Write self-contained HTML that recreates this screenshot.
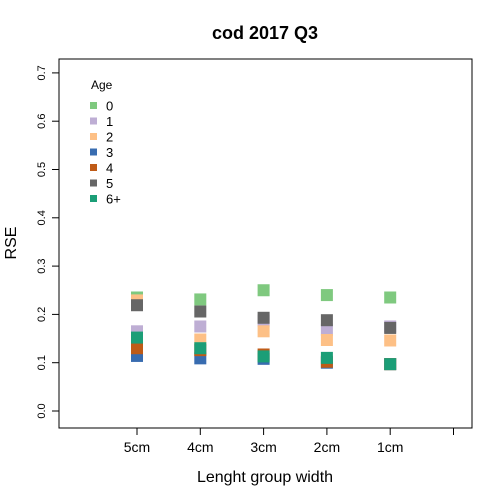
<!DOCTYPE html>
<html><head><meta charset="utf-8"><style>body{margin:0;background:#fff}svg{display:block;font-family:"Liberation Sans",Arial,sans-serif}</style></head>
<body>
<svg id="chart" width="500" height="500">
<text x="265" y="39" text-anchor="middle" font-size="18" font-weight="bold">cod 2017 Q3</text>
<rect x="59" y="59" width="413" height="369" fill="none" stroke="#000"/>
<text x="265" y="482" text-anchor="middle" font-size="16">Lenght group width</text>
<text transform="translate(16,243) rotate(-90)" text-anchor="middle" font-size="16">RSE</text>
<g id="axes"></g><g id="marks"></g><g id="legend"></g>
</svg>
<script>
const categories=["5cm","4cm","3cm","2cm","1cm"];
const ages=["0","1","2","3","4","5","6+"];
const colors=["#7fc97f","#beaed4","#fdc086","#386cb0","#bf5b17","#666666","#1b9e77"];
const age0=[0.235,0.231,0.250,0.240,0.235];
const age1=[0.165,0.175,0.187,0.168,0.175];
const age2=[0.229,0.148,0.165,0.147,0.146];
const age3=[0.114,0.109,0.108,0.100,0.097];
const age4=[0.130,0.126,0.117,0.102,0.097];
const age5=[0.219,0.206,0.193,0.188,0.172];
const age6=[0.152,0.130,0.113,0.110,0.097];
const series=[age0,age1,age2,age3,age4,age5,age6];
const yTicks=[0,0.1,0.2,0.3,0.4,0.5,0.6,0.7];
const NS="http://www.w3.org/2000/svg";
const xS=i=>137+(i)*63.3;
const yS=v=>411-v*483;
function mk(t,a,p){const e=document.createElementNS(NS,t);for(const k in a)e.setAttribute(k,a[k]);p.appendChild(e);return e;}
const ax=document.getElementById('axes');
yTicks.forEach(v=>{
 const l=mk('line',{x1:52,x2:59,y1:yS(v),y2:yS(v),stroke:'#000'},ax);
 
 
 const t=mk('text',{transform:`translate(45,${yS(v)}) rotate(-90)`,'text-anchor':'middle','font-size':11},ax);
 t.textContent=v.toFixed(1);
 
 
});
for(let i=0;i<=categories.length;i++){
 const l=mk('line',{x1:xS(i),x2:xS(i),y1:428,y2:435,stroke:'#000'},ax);
 
 
 if(i<categories.length){
  const t=mk('text',{x:xS(i),y:452,'text-anchor':'middle','font-size':14},ax);
  t.textContent=categories[i];
  
  
 }
}
const mg=document.getElementById('marks');
series.forEach((s,a)=>s.forEach((v,i)=>{
 const r=mk('rect',{x:xS(i)-6,y:yS(v)-6,width:12,height:12,fill:colors[a]},mg);
 
 
}));
const lg=document.getElementById('legend');
const lt=mk('text',{x:91,y:89,'font-size':12},lg);
lt.textContent='Age';


ages.forEach((a,k)=>{
 const y=106+k*15.5;
 const r=mk('rect',{x:90,y:y-4,width:7,height:7,fill:colors[k]},lg);
 
 
 const t=mk('text',{x:106,y:y+4.5,'font-size':13},lg);
 t.textContent=a;
 
 
});
</script>
</body></html>
